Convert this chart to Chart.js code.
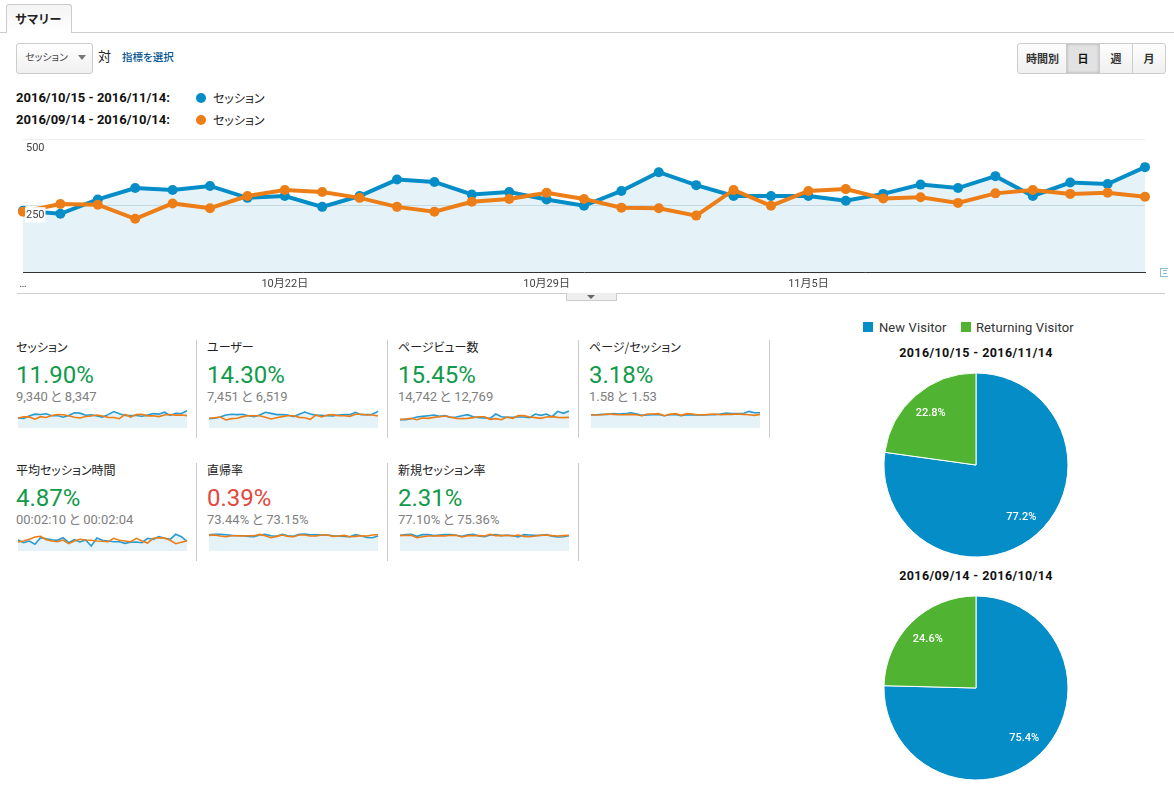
<!DOCTYPE html>
<html lang="ja">
<head>
<meta charset="utf-8">
<title>サマリー</title>
<script src="https://cdn.jsdelivr.net/npm/chart.js@4"></script>
<style>
  html, body { margin: 0; padding: 0; background: #fff; }
  body { position: relative; width: 1174px; height: 786px; overflow: hidden; font-family: Roboto, "Noto Sans CJK JP", sans-serif; color: #222; }
  #page div, #page span, #page canvas { position: absolute; }
  .txt { white-space: nowrap; line-height: 20px; height: 20px; }
  .jp { font-family: "Noto Sans CJK JP", sans-serif; font-feature-settings: "palt"; }
  .date { font-weight: 700; font-size: 13px; color: #111; }
  .dot { width: 10px; height: 10px; border-radius: 50%; }
  .rule { background: #ccc; }
  .vline { width: 1px; height: 98px; background: #ccc; }
  .title { font-family: "Noto Sans CJK JP", sans-serif; font-size: 12px; color: #222; font-feature-settings: "palt"; }
  .pct { font-size: 24px; line-height: 30px; height: 30px; }
  .sub { font-size: 13px; color: #808080; word-spacing: -1.2px; }
  .btn { top: 43px; height: 29px; line-height: 29px; text-align: center; font-size: 11px; font-weight: 700; font-family: "Noto Sans CJK JP", sans-serif; color: #333; background: linear-gradient(#fdfdfd, #f0f0f0); border: 1px solid #ccc; box-sizing: content-box; }
</style>
</head>
<body>
<div id="page">
  <!-- tab row -->
  <div class="rule" style="left:0;top:32px;width:1174px;height:1px"></div>
  <div style="left:6px;top:4px;width:64px;height:28px;border:1px solid #ccc;border-bottom:0;border-radius:3px 3px 0 0;background:linear-gradient(#f4f4f4,#fff)"></div>
  <div class="txt jp" style="left:15px;top:9px;font-size:12px;font-weight:700;color:#222;letter-spacing:0.6px">サマリー</div>

  <!-- metric selector -->
  <div style="left:16px;top:43px;width:75px;height:29px;border:1px solid #ccc;border-radius:3px;background:linear-gradient(#fff,#f0f0f0)"></div>
  <div class="txt jp" style="left:25px;top:47px;font-size:10px;color:#444">セッション</div>
  <div style="left:78px;top:55px;width:0;height:0;border-left:4px solid transparent;border-right:4px solid transparent;border-top:5px solid #777"></div>
  <div class="txt jp" style="left:98px;top:46px;font-size:13px">対</div>
  <div class="txt jp" style="left:122px;top:47px;font-size:10.5px;font-weight:500;color:#05558f">指標を選択</div>

  <!-- time range buttons -->
  <div class="btn" style="left:1017px;width:49px;border-radius:3px 0 0 3px">時間別</div>
  <div class="btn" style="left:1066px;width:32px;background:#e2e2e2;box-shadow:inset 0 0 3px #aaa;color:#111">日</div>
  <div class="btn" style="left:1099px;width:32px">週</div>
  <div class="btn" style="left:1132px;width:32px;border-radius:0 3px 3px 0">月</div>

  <!-- series legend -->
  <div class="txt date" style="left:16px;top:88px">2016/10/15 - 2016/11/14:</div>
  <div class="dot" style="left:196px;top:93px;background:#058DC7"></div>
  <div class="txt jp" style="left:213px;top:88px;font-size:12px">セッション</div>
  <div class="txt date" style="left:16px;top:110px">2016/09/14 - 2016/10/14:</div>
  <div class="dot" style="left:196px;top:115px;background:#ED7E17"></div>
  <div class="txt jp" style="left:213px;top:110px;font-size:12px">セッション</div>

  <!-- main chart -->
  <canvas id="main-chart" width="1174" height="165" style="left:0;top:130px"></canvas>
  <div style="left:1160px;top:268px;width:7px;height:7px;border:1px solid #8bbbd6;border-right:0"></div>
  <div style="left:1163px;top:270px;width:4px;height:1px;background:#8bbbd6"></div>
  <div style="left:1163px;top:273px;width:4px;height:1px;background:#8bbbd6"></div>
  <div class="rule" style="left:17px;top:293px;width:1148px;height:1px"></div>
  <div style="left:566px;top:293px;width:49px;height:7px;border:1px solid #ccc;border-top:0;background:#eee"></div>
  <div style="left:587px;top:295px;width:0;height:0;border-left:4px solid transparent;border-right:4px solid transparent;border-top:4px solid #666"></div>

  <!-- visitor pies -->
  <div style="left:863px;top:322px;width:10px;height:10px;background:#058DC7"></div>
  <div class="txt" id="legend-new" style="left:879px;top:318px;font-size:13px;letter-spacing:0.1px;color:#333"></div>
  <div style="left:961px;top:322px;width:10px;height:10px;background:#50B432"></div>
  <div class="txt" id="legend-returning" style="left:976px;top:318px;font-size:13px;letter-spacing:0.1px;color:#333"></div>
  <div class="txt date" style="left:876px;width:200px;top:343px;text-align:center;font-size:12.5px;letter-spacing:0.4px">2016/10/15 - 2016/11/14</div>
  <canvas id="pie-current" width="200" height="200" style="left:876px;top:365px"></canvas>
  <div class="txt date" style="left:876px;width:200px;top:566px;text-align:center;font-size:12.5px;letter-spacing:0.4px">2016/09/14 - 2016/10/14</div>
  <canvas id="pie-previous" width="200" height="200" style="left:876px;top:588px"></canvas>
</div>

<script>
// Daily labels, only a few of them are shown on the axis
const days = [];
for (let d = 15; d <= 31; d++) days.push(`10月${d}日`);
for (let d = 1; d <= 14; d++) days.push(`11月${d}日`);
const shownDays = { 0: '…', 7: '10月22日', 14: '10月29日', 21: '11月5日' };

const BLUE = '#058DC7';
const ORANGE = '#ED7E17';
const GREEN = '#50B432';

const sessionsNow = [231, 220, 274, 317, 310, 325, 280, 287, 246, 287, 349, 340, 293, 302, 274, 250, 306, 377, 328, 287, 287, 287, 269, 295, 330, 317, 362, 287, 338, 332, 396];
const sessionsPrev = [228, 257, 254, 201, 259, 241, 287, 310, 302, 280, 246, 228, 265, 276, 299, 276, 243, 241, 213, 310, 250, 306, 313, 278, 282, 261, 297, 310, 295, 299, 284];

const usersNow = [173, 179, 204, 241, 253, 247, 253, 228, 210, 241, 290, 271, 247, 247, 241, 210, 253, 296, 259, 234, 234, 228, 222, 241, 247, 247, 290, 247, 247, 253, 308];
const usersPrev = [179, 191, 204, 148, 173, 179, 210, 228, 228, 228, 197, 167, 191, 210, 228, 228, 197, 191, 160, 241, 204, 241, 247, 228, 228, 216, 253, 253, 241, 241, 222];

const pageviewsNow = [340, 340, 381, 449, 476, 503, 530, 476, 503, 435, 449, 503, 544, 462, 422, 408, 394, 571, 462, 435, 435, 449, 449, 422, 571, 517, 571, 462, 680, 598, 694];
const pageviewsPrev = [340, 367, 394, 340, 408, 394, 435, 462, 490, 435, 394, 381, 394, 422, 462, 462, 354, 381, 340, 449, 394, 503, 503, 449, 422, 394, 449, 462, 435, 422, 435];

const pagesNow = [1.50, 1.50, 1.54, 1.54, 1.62, 1.58, 1.62, 1.73, 1.62, 1.43, 1.47, 1.50, 1.54, 1.39, 1.50, 1.54, 1.39, 1.50, 1.47, 1.47, 1.47, 1.50, 1.50, 1.58, 1.69, 1.62, 1.62, 1.62, 1.88, 1.73, 1.73];
const pagesPrev = [1.47, 1.47, 1.50, 1.58, 1.54, 1.50, 1.50, 1.54, 1.50, 1.39, 1.58, 1.58, 1.62, 1.39, 1.54, 1.62, 1.43, 1.62, 1.58, 1.47, 1.50, 1.54, 1.58, 1.50, 1.54, 1.54, 1.58, 1.54, 1.50, 1.43, 1.54];

const durationNow = [143, 108, 130, 87, 173, 160, 147, 139, 173, 108, 147, 117, 143, 65, 169, 139, 130, 121, 121, 100, 113, 117, 108, 165, 152, 186, 165, 152, 217, 186, 126];
const durationPrev = [117, 130, 152, 182, 191, 147, 130, 121, 143, 95, 130, 152, 143, 139, 130, 126, 121, 165, 139, 130, 121, 165, 130, 104, 165, 173, 169, 139, 95, 113, 134];

const bounceNow = [75.0, 76.5, 76.5, 75.0, 71.9, 70.4, 70.4, 67.3, 65.8, 73.4, 76.5, 70.4, 67.3, 76.5, 70.4, 67.3, 76.5, 78.0, 75.0, 75.0, 73.4, 73.4, 70.4, 68.9, 67.3, 65.8, 75.0, 70.4, 62.7, 61.2, 68.9];
const bouncePrev = [71.9, 73.4, 68.9, 65.8, 70.4, 70.4, 68.9, 70.4, 70.4, 76.5, 70.4, 61.2, 67.3, 73.4, 67.3, 65.8, 73.4, 73.4, 68.9, 68.9, 73.4, 73.4, 67.3, 68.9, 71.9, 65.8, 67.3, 70.4, 68.9, 73.4, 75.0];

const newRateNow = [79.0, 82.3, 84.0, 73.9, 82.3, 82.3, 77.3, 80.6, 82.3, 82.3, 79.0, 73.9, 82.3, 84.0, 75.6, 72.2, 80.6, 82.3, 77.3, 79.0, 77.3, 70.6, 82.3, 80.6, 79.0, 79.0, 82.3, 73.9, 70.6, 72.2, 77.3];
const newRatePrev = [77.3, 79.0, 79.0, 67.2, 72.2, 75.6, 75.6, 77.3, 75.6, 79.0, 79.0, 70.6, 77.3, 77.3, 77.3, 75.6, 84.0, 77.3, 77.3, 79.0, 75.6, 80.6, 73.9, 72.2, 75.6, 79.0, 80.6, 77.3, 75.6, 77.3, 79.0];

const pieLabels = ['New Visitor', 'Returning Visitor'];
const pieCurrent = [77.2, 22.8];
const piePrevious = [75.4, 24.6];

Chart.defaults.font.family = 'Roboto, "Noto Sans CJK JP", sans-serif';
Chart.defaults.animation = false;
Chart.defaults.plugins.legend.display = false;
Chart.defaults.plugins.tooltip.enabled = false;

// Main line chart
new Chart(document.getElementById('main-chart'), {
  type: 'line',
  data: {
    labels: days,
    datasets: [
      { data: sessionsNow, order: 2, borderColor: BLUE, backgroundColor: BLUE, fill: { target: 'origin', above: 'rgba(5,141,199,0.105)' } },
      { data: sessionsPrev, order: 1, borderColor: ORANGE, backgroundColor: ORANGE, fill: false }
    ]
  },
  options: {
    responsive: false,
    layout: { padding: { left: 23, right: 29, top: 8, bottom: 0 } },
    datasets: { line: { borderWidth: 4, tension: 0, pointRadius: 5, pointBorderWidth: 0, clip: false } },
    scales: {
      x: {
        afterFit: (s) => { s.height = 23; },
        grid: { display: false, drawTicks: false },
        border: { color: '#333', width: 1 },
        ticks: {
          autoSkip: false, maxRotation: 0, padding: 6, color: '#444', font: { size: 11 },
          callback: (value, i) => shownDays[i] || ''
        }
      },
      y: {
        min: 0, max: 500,
        afterFit: (s) => { s.width = 0; },
        grid: {
          drawTicks: false,
          color: (c) => c.tick.value === 0 ? 'transparent' : (c.tick.value === 500 ? '#eee' : '#dbe3e7')
        },
        border: { display: false },
        ticks: {
          stepSize: 250, mirror: true, padding: 3, labelOffset: 9, z: 1, color: '#444', font: { size: 11 },
          showLabelBackdrop: (c) => c.tick.value === 250, backdropColor: '#fff', backdropPadding: 1,
          callback: (value) => value === 0 ? '' : value
        }
      }
    }
  }
});

// Small tiles under the main chart
const tiles = [
  { name: 'セッション', pct: '11.90%', sub: '9,340 と 8,347', now: sessionsNow, prev: sessionsPrev, max: 458, col: 0, row: 0 },
  { name: 'ユーザー', pct: '14.30%', sub: '7,451 と 6,519', now: usersNow, prev: usersPrev, max: 370, col: 1, row: 0 },
  { name: 'ページビュー数', pct: '15.45%', sub: '14,742 と 12,769', now: pageviewsNow, prev: pageviewsPrev, max: 816, col: 2, row: 0 },
  { name: 'ページ/セッション', pct: '3.18%', sub: '1.58 と 1.53', now: pagesNow, prev: pagesPrev, max: 2.26, col: 3, row: 0 },
  { name: '平均セッション時間', pct: '4.87%', sub: '00:02:10 と 00:02:04', now: durationNow, prev: durationPrev, max: 260, col: 0, row: 1 },
  { name: '直帰率', pct: '0.39%', sub: '73.44% と 73.15%', now: bounceNow, prev: bouncePrev, max: 92, col: 1, row: 1, bad: true },
  { name: '新規セッション率', pct: '2.31%', sub: '77.10% と 75.36%', now: newRateNow, prev: newRatePrev, max: 100.8, col: 2, row: 1 }
];

const page = document.getElementById('page');

function addText(cls, text, left, top, color) {
  const el = document.createElement('div');
  el.className = cls;
  el.textContent = text;
  el.style.left = left + 'px';
  el.style.top = top + 'px';
  if (color) el.style.color = color;
  page.appendChild(el);
}

tiles.forEach(tile => {
  const left = 16 + tile.col * 191;
  const top = tile.row * 123;

  addText('txt title', tile.name, left, 337 + top);
  addText('txt pct', tile.pct, left, 360 + top, tile.bad ? '#e2483d' : '#109a4a');
  addText('txt sub', tile.sub, left, 387 + top);

  const line = document.createElement('div');
  line.className = 'vline';
  line.style.left = (left + 180) + 'px';
  line.style.top = (340 + top) + 'px';
  page.appendChild(line);

  const canvas = document.createElement('canvas');
  canvas.width = 173;
  canvas.height = 25;
  canvas.style.left = left + 'px';
  canvas.style.top = (405 + top) + 'px';
  page.appendChild(canvas);

  new Chart(canvas, {
    type: 'line',
    data: {
      labels: days,
      datasets: [
        { data: tile.now, order: 2, borderColor: '#2a9bd0', fill: { target: 'origin', above: 'rgba(5,141,199,0.105)' } },
        { data: tile.prev, order: 1, borderColor: ORANGE, fill: false }
      ]
    },
    options: {
      responsive: false,
      layout: { padding: { left: 2, right: 2, top: 3, bottom: 2 } },
      datasets: { line: { borderWidth: 1.6, tension: 0, pointRadius: 0, clip: false } },
      scales: {
        x: { display: false },
        y: { display: false, min: 0, max: tile.max }
      }
    }
  });
});

// One extra rule closing the top row of tiles
const lastRule = document.createElement('div');
lastRule.className = 'vline';
lastRule.style.left = '769px';
lastRule.style.top = '340px';
page.appendChild(lastRule);

document.getElementById('legend-new').textContent = pieLabels[0];
document.getElementById('legend-returning').textContent = pieLabels[1];

// Percent labels inside the slices
const sliceLabels = {
  id: 'sliceLabels',
  afterDatasetsDraw(chart) {
    const { ctx } = chart;
    const values = chart.data.datasets[0].data;
    ctx.save();
    ctx.fillStyle = '#fff';
    ctx.font = '500 11px Roboto';
    ctx.textAlign = 'center';
    ctx.textBaseline = 'middle';
    chart.getDatasetMeta(0).data.forEach((arc, i) => {
      const mid = (arc.startAngle + arc.endAngle) / 2;
      const r = arc.outerRadius * 0.75;
      ctx.fillText(values[i].toFixed(1) + '%', arc.x + Math.cos(mid) * r, arc.y + Math.sin(mid) * r + 0.5);
    });
    ctx.restore();
  }
};

function drawPie(id, values) {
  new Chart(document.getElementById(id), {
    type: 'pie',
    data: {
      labels: pieLabels,
      datasets: [{ data: values, backgroundColor: [BLUE, GREEN], borderColor: '#fff', borderWidth: 1 }]
    },
    options: { responsive: false, radius: 92 },
    plugins: [sliceLabels]
  });
}

drawPie('pie-current', pieCurrent);
drawPie('pie-previous', piePrevious);
</script>
</body>
</html>
